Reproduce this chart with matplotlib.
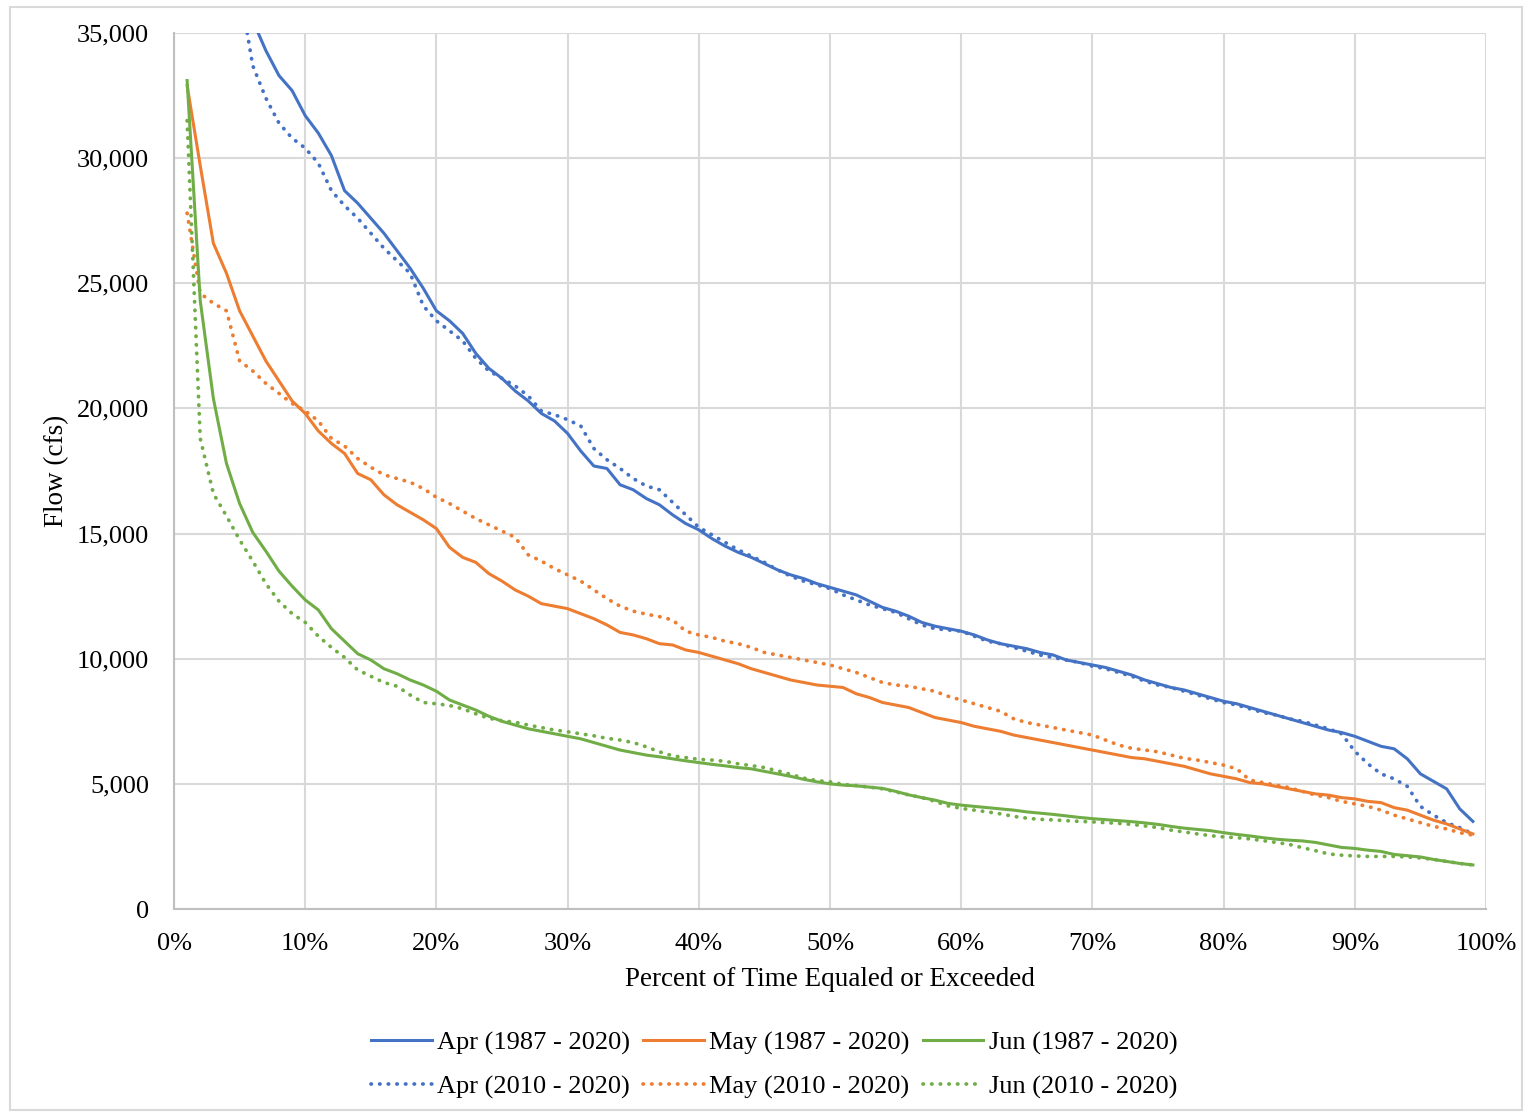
import matplotlib
matplotlib.use("Agg")
import matplotlib.pyplot as plt
from matplotlib.ticker import FuncFormatter, MultipleLocator
from matplotlib.patches import Rectangle

plt.rcParams['font.family'] = ['Liberation Serif', 'DejaVu Serif']

# percent of time equaled or exceeded (1% .. 99%)
pct = list(range(1, 100))

# flow (cfs)
apr_all = [70000, 52000, 45000, 40000, 37500, 35500, 34300, 33300, 32700, 31700,
           31000, 30100, 28700, 28200, 27600, 27000, 26300, 25600, 24800, 23900,
           23500, 23000, 22200, 21600, 21200, 20700, 20300, 19800, 19500, 19000,
           18300, 17700, 17600, 16950, 16750, 16400, 16150, 15750, 15400, 15150,
           14800, 14500, 14250, 14050, 13800, 13550, 13350, 13200, 13000, 12850,
           12700, 12550, 12300, 12050, 11900, 11700, 11450, 11300, 11200, 11100,
           10950, 10750, 10600, 10500, 10400, 10250, 10150, 9950, 9850, 9750,
           9650, 9500, 9350, 9150, 9000, 8850, 8750, 8600, 8450, 8300,
           8200, 8050, 7900, 7750, 7600, 7450, 7300, 7150, 7050, 6900,
           6700, 6500, 6400, 6000, 5400, 5100, 4800, 4000, 3500]

apr_recent = [65000, 50000, 43000, 39500, 36800, 33700, 32400, 31400, 30800, 30400,
              29800, 28700, 28100, 27600, 27000, 26400, 25900, 25400, 24100, 23500,
              23100, 22700, 22000, 21500, 21200, 20900, 20500, 19900, 19750, 19550,
              19300, 18400, 17950, 17600, 17200, 16900, 16750, 16250, 15750, 15250,
              14950, 14650, 14350, 14100, 13850, 13550, 13300, 13100, 12950, 12800,
              12550, 12350, 12150, 12000, 11850, 11600, 11350, 11200, 11150, 11100,
              10900, 10700, 10600, 10450, 10300, 10150, 10050, 9950, 9850, 9700,
              9600, 9450, 9300, 9100, 8950, 8850, 8700, 8550, 8400, 8250,
              8150, 8000, 7850, 7750, 7600, 7500, 7350, 7200, 7000, 6300,
              5800, 5400, 5200, 4900, 4100, 3750, 3450, 3250, 3000]

may_all = [32900, 29700, 26600, 25400, 23900, 22900, 21900, 21100, 20300, 19800,
           19100, 18600, 18200, 17400, 17150, 16550, 16150, 15850, 15550, 15200,
           14450, 14050, 13850, 13400, 13100, 12750, 12500, 12200, 12100, 12000,
           11800, 11600, 11350, 11050, 10950, 10800, 10600, 10550, 10350, 10250,
           10100, 9950, 9800, 9600, 9450, 9300, 9150, 9050, 8950, 8900,
           8850, 8600, 8450, 8250, 8150, 8050, 7850, 7650, 7550, 7450,
           7300, 7200, 7100, 6950, 6850, 6750, 6650, 6550, 6450, 6350,
           6250, 6150, 6050, 6000, 5900, 5800, 5700, 5550, 5400, 5300,
           5200, 5050, 5000, 4900, 4800, 4700, 4600, 4550, 4450, 4400,
           4300, 4250, 4050, 3950, 3750, 3550, 3400, 3200, 3000]

may_recent = [27800, 24600, 24200, 23900, 21900, 21500, 21000, 20600, 20200, 19900,
              19500, 18800, 18500, 18000, 17650, 17350, 17200, 17050, 16800, 16450,
              16200, 15900, 15600, 15350, 15100, 14850, 14150, 13900, 13600, 13350,
              13100, 12750, 12400, 12100, 11900, 11780, 11680, 11550, 11100, 10950,
              10850, 10700, 10600, 10450, 10250, 10150, 10050, 9950, 9850, 9750,
              9600, 9450, 9250, 9050, 8950, 8900, 8800, 8700, 8500, 8350,
              8200, 8050, 7900, 7600, 7450, 7350, 7250, 7150, 7050, 6950,
              6750, 6550, 6420, 6350, 6280, 6150, 6020, 5950, 5850, 5750,
              5600, 5150, 5050, 4950, 4850, 4700, 4550, 4450, 4300, 4200,
              4100, 3950, 3750, 3600, 3450, 3300, 3200, 3050, 2950]

jun_all = [33100, 24300, 20400, 17800, 16200, 15050, 14300, 13500, 12900, 12350,
           11950, 11200, 10700, 10200, 9950, 9600, 9400, 9150, 8950, 8700,
           8350, 8150, 7950, 7700, 7500, 7350, 7200, 7100, 7000, 6900,
           6800, 6650, 6500, 6350, 6250, 6150, 6080, 6000, 5920, 5850,
           5780, 5720, 5650, 5600, 5500, 5400, 5300, 5180, 5080, 5000,
           4950, 4920, 4870, 4820, 4700, 4560, 4450, 4350, 4220, 4150,
           4100, 4050, 4000, 3950, 3880, 3830, 3780, 3720, 3660, 3610,
           3570, 3530, 3490, 3440, 3380, 3300, 3230, 3180, 3130, 3050,
           2980, 2920, 2850, 2790, 2750, 2720, 2660, 2560, 2460, 2420,
           2350, 2300, 2180, 2130, 2080, 1980, 1900, 1820, 1760]

jun_recent = [31500, 18800, 16600, 15700, 14750, 13900, 13000, 12300, 11800, 11450,
              10900, 10450, 10050, 9550, 9300, 9050, 8900, 8550, 8250, 8200,
              8130, 8000, 7800, 7620, 7520, 7460, 7350, 7250, 7150, 7080,
              7000, 6920, 6820, 6750, 6650, 6480, 6280, 6120, 6050, 5980,
              5950, 5900, 5800, 5730, 5650, 5520, 5380, 5230, 5130, 5080,
              4980, 4930, 4870, 4800, 4680, 4560, 4450, 4300, 4120, 4020,
              3950, 3880, 3800, 3700, 3630, 3580, 3560, 3530, 3500, 3480,
              3450, 3420, 3380, 3320, 3250, 3150, 3080, 3000, 2930, 2880,
              2850, 2800, 2730, 2660, 2580, 2450, 2330, 2200, 2150, 2120,
              2100, 2100, 2100, 2080, 2040, 1980, 1900, 1820, 1760]

labels_all = ['Apr (1987 - 2020)', 'May (1987 - 2020)', 'Jun (1987 - 2020)']
labels_recent = ['Apr (2010 - 2020)', 'May (2010 - 2020)', 'Jun (2010 - 2020)']
colors = ['#4472C4', '#ED7D31', '#70AD47']

fig = plt.figure(figsize=(15.24, 11.13), dpi=100)
ax = fig.add_axes([174 / 1524, 1 - 909 / 1113, 1312 / 1524, 876 / 1113])

# light border around the whole chart
fig.patches.append(Rectangle((10 / 1524, 3 / 1113), 1512 / 1524, 1103 / 1113,
                             transform=fig.transFigure, fill=False,
                             edgecolor='#d9d9d9', linewidth=1.5))

series_all = [apr_all, may_all, jun_all]
series_recent = [apr_recent, may_recent, jun_recent]
dots = (0, (0.1, 2.2))

for i in range(3):
    ax.plot([p / 100 for p in pct], series_all[i], color=colors[i], lw=2.2,
            label=labels_all[i], solid_joinstyle='round', zorder=3)
    ax.plot([p / 100 for p in pct], series_recent[i], color=colors[i], lw=2.7,
            linestyle=dots, dash_capstyle='round', label=labels_recent[i], zorder=3)

ax.set_xlim(0, 1)
ax.set_ylim(0, 35000)
ax.xaxis.set_major_locator(MultipleLocator(0.1))
ax.yaxis.set_major_locator(MultipleLocator(5000))
ax.xaxis.set_major_formatter(FuncFormatter(lambda v, p: f'{v * 100:.0f}%'))
ax.yaxis.set_major_formatter(FuncFormatter(lambda v, p: f'{v:,.0f}'))
ax.grid(True, color='#d9d9d9', lw=1.5, zorder=0)
ax.set_axisbelow(True)
for s in ['top', 'right']:
    ax.spines[s].set_visible(False)
for s in ['left', 'bottom']:
    ax.spines[s].set_color('#bfbfbf')
    ax.spines[s].set_linewidth(1.5)
ax.tick_params(length=0, labelsize=19, colors='#000000')
ax.tick_params(axis='y', pad=18)
ax.tick_params(axis='x', pad=17)

ax.set_xlabel('Percent of Time Equaled or Exceeded', fontsize=19.5)
ax.set_ylabel('Flow (cfs)', fontsize=19.5)
ax.xaxis.set_label_coords(0.5, -0.08)
ax.xaxis.label.set_va('center')
ax.yaxis.set_label_coords(-0.0895, 0.5)
ax.yaxis.label.set_va('center')

handles, labels = ax.get_legend_handles_labels()
fig.legend(handles, labels, ncol=3, loc='center', bbox_to_anchor=(774 / 1524, 1 - 1065 / 1113),
           frameon=False, fontsize=19, handlelength=2.3, handletextpad=0.2,
           columnspacing=0.5, labelspacing=0.75)

fig.savefig('out.png', dpi=100)
